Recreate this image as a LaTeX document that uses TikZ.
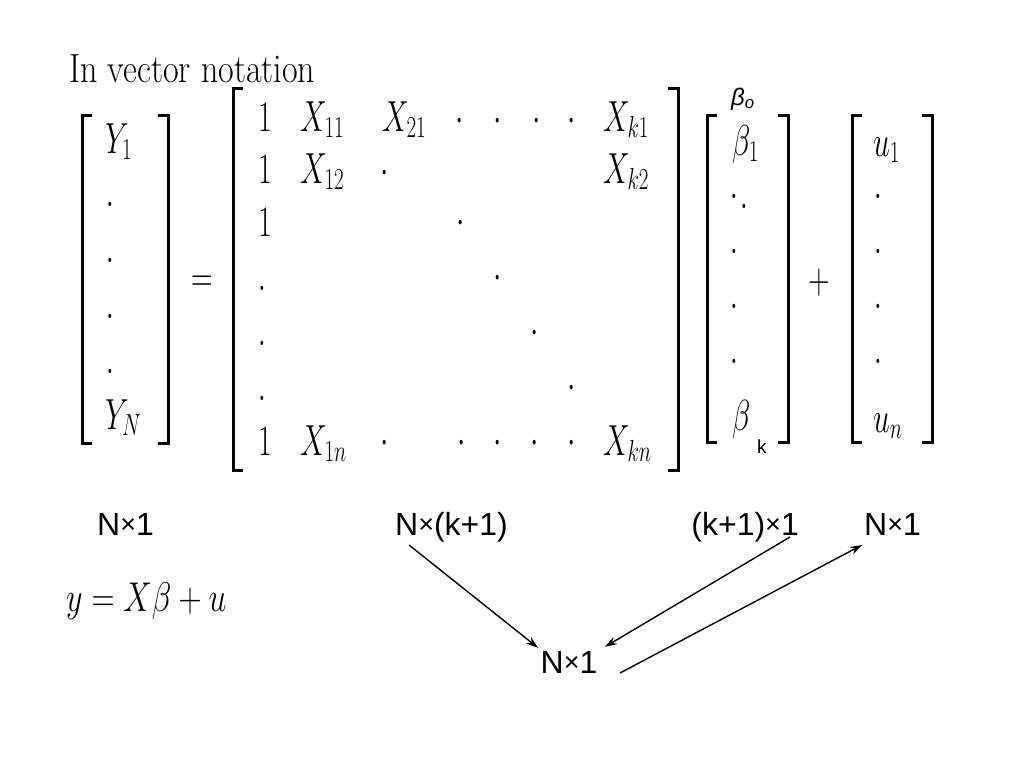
\RequirePackage{fix-cm}
\documentclass[tikz,border=0pt]{standalone}
\usepackage{fontspec}
\newfontfamily\arial{Liberation Sans}
\usetikzlibrary{arrows.meta}

\newcommand{\stretched}[1]{\scalebox{1}[1.45]{#1}}
\newcommand{\smtimes}{\raisebox{2pt}{\fontsize{27}{30}\selectfont ×}}

\tikzset{
  ent/.style={inner sep=0pt, anchor=base west, font=\fontsize{30}{36}\selectfont},
  dotc/.style={inner sep=0pt, anchor=base, font=\fontsize{30}{36}\selectfont},
  dims/.style={inner sep=0pt, font=\arial\fontsize{32}{38}\selectfont},
  brk/.style={line width=3pt},
  arr/.style={-{Stealth[length=12pt,width=8pt]}, line width=1.4pt}
}

\begin{document}
\begin{tikzpicture}[x=1pt,y=-1pt]
\useasboundingbox (0,0) rectangle (1024,768);

\node [ent, font=\fontsize{34}{40}\selectfont] (title) at (69,82) {\scalebox{1}[1.2]{In vector notation}};

% Y vector
\draw [brk] (92,115) -- (82,115) -- (82,443) -- (92,443);
\draw [brk] (158,115) -- (168,115) -- (168,443) -- (158,443);
\node [ent] (y1) at (105,153) {\stretched{$Y_1$}};
\node [dotc] (yd1) at (110,206) {\stretched{$.$}};
\node [dotc] (yd2) at (110,262) {\stretched{$.$}};
\node [dotc] (yd3) at (110,318) {\stretched{$.$}};
\node [dotc] (yd4) at (110,373) {\stretched{$.$}};
\node [ent] (yn) at (105,429) {\stretched{$Y_N$}};

\node [ent] (eq) at (191,291) {\stretched{$=$}};

% X matrix
\draw [brk] (243,88) -- (233,88) -- (233,470) -- (243,470);
\draw [brk] (668,88) -- (678,88) -- (678,470) -- (668,470);
\node [ent] (r1a) at (258,131) {\stretched{$1$}};
\node [ent] (r1b) at (300,131) {\stretched{$X_{11}$}};
\node [ent] (r1c) at (382,131) {\stretched{$X_{21}$}};
\node [dotc] (r1d) at (460,131) {\stretched{$\cdot$}};
\node [dotc] (r1e) at (498,131) {\stretched{$\cdot$}};
\node [dotc] (r1f) at (537,131) {\stretched{$\cdot$}};
\node [dotc] (r1g) at (572,131) {\stretched{$\cdot$}};
\node [ent] (r1h) at (603,131) {\stretched{$X_{k1}$}};

\node [ent] (r2a) at (258,183) {\stretched{$1$}};
\node [ent] (r2b) at (300,183) {\stretched{$X_{12}$}};
\node [dotc] (r2c) at (385,183) {\stretched{$\cdot$}};
\node [ent] (r2d) at (603,183) {\stretched{$X_{k2}$}};

\node [ent] (r3a) at (258,236) {\stretched{$1$}};
\node [dotc] (r3b) at (461,233) {\stretched{$\cdot$}};

\node [dotc] (r4a) at (262,290) {\stretched{$.$}};
\node [dotc] (r4b) at (498,288) {\stretched{$\cdot$}};
\node [dotc] (r5a) at (262,345) {\stretched{$.$}};
\node [dotc] (r5b) at (535,343) {\stretched{$\cdot$}};
\node [dotc] (r6a) at (262,400) {\stretched{$.$}};
\node [dotc] (r6b) at (572,398) {\stretched{$\cdot$}};

\node [ent] (r7a) at (258,455) {\stretched{$1$}};
\node [ent] (r7b) at (300,455) {\stretched{$X_{1n}$}};
\node [dotc] (r7c) at (385,453) {\stretched{$\cdot$}};
\node [dotc] (r7d) at (462,453) {\stretched{$\cdot$}};
\node [dotc] (r7e) at (498,453) {\stretched{$\cdot$}};
\node [dotc] (r7f) at (535,453) {\stretched{$\cdot$}};
\node [dotc] (r7g) at (572,453) {\stretched{$\cdot$}};
\node [ent] (r7h) at (603,455) {\stretched{$X_{kn}$}};

% beta vector
\node [dims, anchor=base west, font=\arial\itshape\fontsize{24}{28}\selectfont] (b0) at (731,105) {β\textsubscript{o}};
\draw [brk] (717,115) -- (707,115) -- (707,442) -- (717,442);
\draw [brk] (778,115) -- (788,115) -- (788,442) -- (778,442);
\node [ent] (b1) at (732,155) {\stretched{$\beta_1$}};
\node [dotc] (bd1) at (734,198) {\stretched{$.$}};
\node [dotc] (bd2) at (744,208) {\stretched{$.$}};
\node [dotc] (bd3) at (734,253) {\stretched{$.$}};
\node [dotc] (bd4) at (734,308) {\stretched{$.$}};
\node [dotc] (bd5) at (734,363) {\stretched{$.$}};
\node [ent] (bk) at (732,430) {\stretched{$\beta$}};
\node [dims, anchor=base west, font=\arial\fontsize{19}{23}\selectfont] (bkk) at (757,453) {k};

\node [ent] (plus) at (808,293) {\stretched{$+$}};

% u vector
\draw [brk] (862,115) -- (852,115) -- (852,442) -- (862,442);
\draw [brk] (922,115) -- (932,115) -- (932,442) -- (922,442);
\node [ent] (u1) at (873,156) {\stretched{$u_1$}};
\node [dotc] (ud1) at (878,198) {\stretched{$.$}};
\node [dotc] (ud2) at (878,253) {\stretched{$.$}};
\node [dotc] (ud3) at (878,308) {\stretched{$.$}};
\node [dotc] (ud4) at (878,363) {\stretched{$.$}};
\node [ent] (un) at (873,432) {\stretched{$u_n$}};

% dimensions
\node [dims, anchor=base west] (ny) at (97,535) {N\smtimes1};
\node [dims, anchor=base west] (nk) at (395,535) {N\smtimes(k+1)};
\node [dims, anchor=base east] (kk) at (799,535) {(k+1)\smtimes1};
\node [dims, anchor=base west] (nu) at (864,535) {N\smtimes1};
\node [dims, anchor=base] (ne) at (569,673) {N\smtimes1};

\node [ent, font=\fontsize{32}{38}\selectfont] (model) at (66,611) {\scalebox{1}[1.3]{$y = X\beta + u$}};

\draw [arr] ([xshift=14pt,yshift=-10pt]nk.base west) -- ([xshift=-31pt,yshift=3pt]ne.north);
\draw [arr] ([xshift=-9pt,yshift=-2pt]kk.base east) -- ([xshift=36pt,yshift=4pt]ne.north);
\draw [arr] ([xshift=51pt,yshift=0pt]ne.base) -- ([xshift=-2pt,yshift=-10pt]nu.base west);

\end{tikzpicture}
\end{document}
